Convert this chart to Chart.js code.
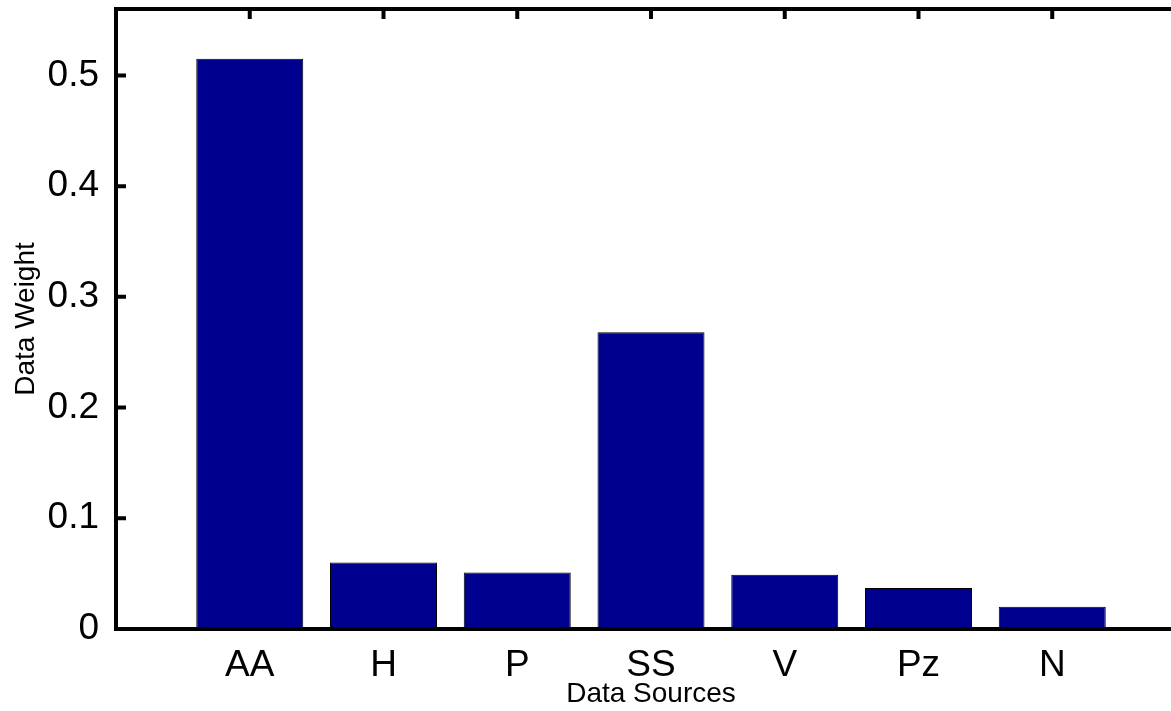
<!DOCTYPE html>
<html lang="en">
<head>
    <meta charset="UTF-8">
    <script src="https://cdn.jsdelivr.net/npm/chart.js"></script>
    <title>Data Weight by Source</title>
    <style>
        body { margin: 0; background: #fff; overflow: hidden; }
        #wrap { width: 1171px; height: 711px; overflow: hidden; }
    </style>
</head>
<body>
    <div id="wrap">
        <canvas id="weightChart" width="1186" height="711"></canvas>
    </div>

    <script>
    // data
    const sources = ['AA', 'H', 'P', 'SS', 'V', 'Pz', 'N'];
    const weights = [0.515, 0.060, 0.051, 0.268, 0.049, 0.037, 0.020];
    const yTickValues = [0, 0.1, 0.2, 0.3, 0.4, 0.5];
    const xPositions = [1, 2, 3, 4, 5, 6, 7];

    const FONT = 'Liberation Sans, Arial, Helvetica, sans-serif';

    // matlab style box with inward ticks
    const framePlugin = {
        id: 'frame',
        afterDraw(chart) {
            const ctx = chart.ctx;
            const area = chart.chartArea;
            const xs = chart.scales.x;
            const ys = chart.scales.y;
            const tickLen = 10;
            ctx.save();
            ctx.strokeStyle = '#000';
            ctx.lineWidth = 4;
            ctx.lineCap = 'square';
            ctx.beginPath();
            ctx.rect(area.left, area.top, area.right - area.left, area.bottom - area.top);
            ctx.stroke();

            ctx.lineCap = 'butt';
            ctx.beginPath();
            xPositions.forEach((v) => {
                const px = xs.getPixelForValue(v);
                ctx.moveTo(px, area.top);
                ctx.lineTo(px, area.top + tickLen);
            });
            yTickValues.forEach((v) => {
                const py = ys.getPixelForValue(v);
                ctx.moveTo(area.left, py);
                ctx.lineTo(area.left + tickLen, py);
            });
            ctx.stroke();
            ctx.restore();
        }
    };

    const ctx = document.getElementById('weightChart');

    new Chart(ctx, {
        type: 'bar',
        data: {
            datasets: [{
                label: 'Data Weight',
                data: sources.map((s, i) => ({x: xPositions[i], y: weights[i]})),
                backgroundColor: '#00008f',
                borderColor: '#000',
                borderWidth: 1,
                barPercentage: 0.8,
                categoryPercentage: 1.0
            }]
        },
        plugins: [framePlugin],
        options: {
            responsive: false,
            animation: false,
            devicePixelRatio: 1,
            layout: {
                padding: {top: 9, right: 0, bottom: 0, left: 0}
            },
            plugins: {
                legend: { display: false },
                tooltip: { enabled: false }
            },
            scales: {
                x: {
                    type: 'linear',
                    min: 0,
                    max: 8,
                    offset: false,
                    grid: { display: false, offset: false },
                    border: { display: false },
                    afterFit(scale) {
                        scale.height = 82;
                        scale.paddingLeft = 0;
                        scale.paddingRight = 0;
                    },
                    afterBuildTicks(scale) {
                        scale.ticks = xPositions.map((v) => ({value: v}));
                    },
                    ticks: {
                        autoSkip: false,
                        maxRotation: 0,
                        padding: 7,
                        color: '#000',
                        font: { family: FONT, size: 37 },
                        callback: (v) => sources[xPositions.indexOf(v)] || ''
                    },
                    title: {
                        display: true,
                        text: 'Data Sources',
                        color: '#000',
                        font: { family: FONT, size: 28 },
                        padding: {top: 0, bottom: 0}
                    }
                },
                y: {
                    min: 0,
                    max: 0.56,
                    grid: { display: false },
                    border: { display: false },
                    afterFit(scale) {
                        scale.width = 116;
                        scale.paddingTop = 0;
                        scale.paddingBottom = 0;
                    },
                    afterBuildTicks(scale) {
                        scale.ticks = yTickValues.map((v) => ({value: v}));
                    },
                    ticks: {
                        padding: 9,
                        color: '#000',
                        font: { family: FONT, size: 37 },
                        callback: (v) => v === 0 ? '0' : v.toFixed(1)
                    },
                    title: {
                        display: true,
                        text: 'Data Weight',
                        color: '#000',
                        font: { family: FONT, size: 28 },
                        padding: {top: 9, bottom: 0}
                    }
                }
            }
        }
    });
    </script>
</body>
</html>
